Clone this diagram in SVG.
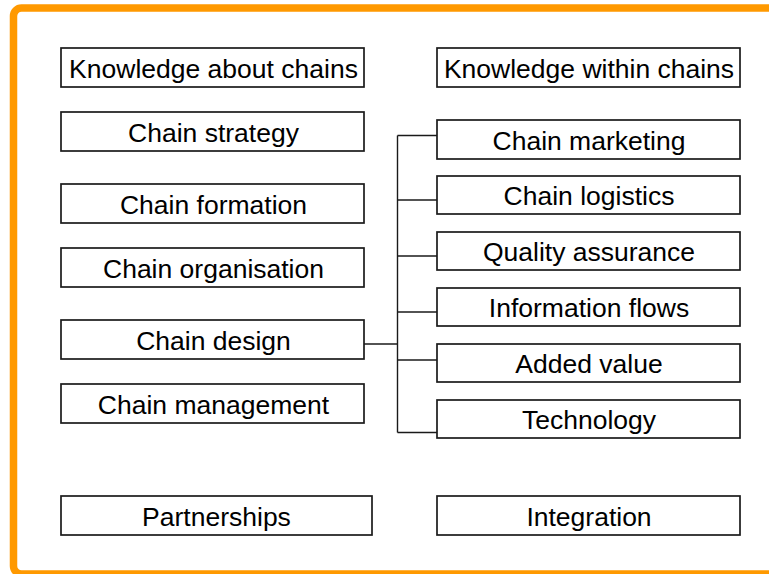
<svg xmlns="http://www.w3.org/2000/svg" width="769" height="574" viewBox="0 0 769 574">
<style>
.frame{fill:#ffffff;stroke:#ff9900;stroke-width:7.5}
.box{fill:#ffffff;stroke:#1a1a1a;stroke-width:1.7}
.lbl{font-family:"Liberation Sans",Arial,sans-serif;font-size:26.5px;fill:#000000;text-anchor:middle}
.conn{fill:none;stroke:#1a1a1a;stroke-width:1.4}
</style>
<rect x="0" y="0" width="769" height="574" fill="#ffffff"/>
<rect class="frame" x="13.5" y="8" width="765" height="566" rx="8" ry="8"/>
<g id="connectors">
<line class="conn" x1="397.5" y1="135.5" x2="397.5" y2="432.5"/>
<line class="conn" x1="364" y1="344" x2="397.5" y2="344"/>
<line class="conn" x1="397.5" y1="135.5" x2="437" y2="135.5"/>
<line class="conn" x1="397.5" y1="200" x2="437" y2="200"/>
<line class="conn" x1="397.5" y1="256" x2="437" y2="256"/>
<line class="conn" x1="397.5" y1="312" x2="437" y2="312"/>
<line class="conn" x1="397.5" y1="360" x2="437" y2="360"/>
<line class="conn" x1="397.5" y1="432.5" x2="437" y2="432.5"/>
</g>
<g id="knowledge-about-chains"><rect class="box" x="61" y="48" width="303" height="39"/><text class="lbl" x="213.5" y="77.5">Knowledge about chains</text></g>
<g id="chain-strategy"><rect class="box" x="61" y="112" width="303" height="39"/><text class="lbl" x="213.5" y="141.5">Chain strategy</text></g>
<g id="chain-formation"><rect class="box" x="61" y="184" width="303" height="39"/><text class="lbl" x="213.5" y="213.5">Chain formation</text></g>
<g id="chain-organisation"><rect class="box" x="61" y="248" width="303" height="39"/><text class="lbl" x="213.5" y="277.5">Chain organisation</text></g>
<g id="chain-design"><rect class="box" x="61" y="320" width="303" height="39"/><text class="lbl" x="213.5" y="349.5">Chain design</text></g>
<g id="chain-management"><rect class="box" x="61" y="384" width="303" height="39"/><text class="lbl" x="213.5" y="413.5">Chain management</text></g>
<g id="partnerships"><rect class="box" x="61" y="496" width="311" height="39"/><text class="lbl" x="216.5" y="525.5">Partnerships</text></g>
<g id="knowledge-within-chains"><rect class="box" x="437" y="48" width="303" height="39"/><text class="lbl" x="589" y="77.5">Knowledge within chains</text></g>
<g id="chain-marketing"><rect class="box" x="437" y="120" width="303" height="39"/><text class="lbl" x="589" y="149.5">Chain marketing</text></g>
<g id="chain-logistics"><rect class="box" x="437" y="176" width="303" height="38"/><text class="lbl" x="589" y="205">Chain logistics</text></g>
<g id="quality-assurance"><rect class="box" x="437" y="232" width="303" height="38"/><text class="lbl" x="589" y="261">Quality assurance</text></g>
<g id="information-flows"><rect class="box" x="437" y="288" width="303" height="38"/><text class="lbl" x="589" y="317">Information flows</text></g>
<g id="added-value"><rect class="box" x="437" y="344" width="303" height="38"/><text class="lbl" x="589" y="373">Added value</text></g>
<g id="technology"><rect class="box" x="437" y="400" width="303" height="38"/><text class="lbl" x="589" y="429">Technology</text></g>
<g id="integration"><rect class="box" x="437" y="496" width="303" height="39"/><text class="lbl" x="589" y="525.5">Integration</text></g>
</svg>
